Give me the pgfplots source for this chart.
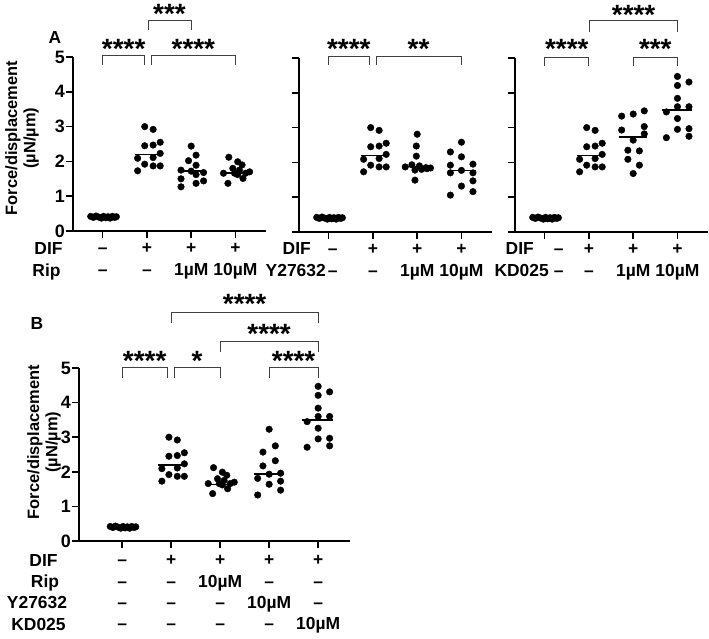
\documentclass[border=0pt]{standalone}
\usepackage{pgfplots}
\pgfplotsset{compat=1.18}
\usepackage{pgfplotstable}
\usepackage{fontspec}
\setmainfont{Liberation Sans}
\newcommand{\fs}{\fontsize{16.5}{18.5}\selectfont\bfseries}
\newcommand{\ft}{\fontsize{17.5}{20}\selectfont\bfseries}

\pgfplotstableread{
o y
-0.27 0.42
-0.21 0.39
-0.15 0.43
-0.09 0.40
-0.03 0.37
0.02 0.42
0.07 0.38
0.12 0.41
0.17 0.37
0.22 0.42
0.27 0.39
0.31 0.41
}\ctrl
\pgfplotstableread{
o y
-0.05 3.00
0.14 2.92
-0.05 2.45
0.14 2.47
0.30 2.55
-0.21 2.09
0.14 2.11
0.30 2.23
-0.05 1.92
0.14 1.87
0.30 1.87
-0.21 1.73
}\dif
\pgfplotstableread{
o y
0.00 2.44
0.11 2.18
-0.06 2.02
0.11 1.89
-0.23 1.75
0.00 1.72
0.11 1.62
0.28 1.68
-0.23 1.50
0.28 1.44
0.11 1.37
-0.23 1.27
}\ripone
\pgfplotstableread{
o y
-0.15 2.12
0.05 1.99
0.15 1.90
-0.06 1.80
0.09 1.75
-0.27 1.66
-0.02 1.66
0.23 1.66
0.05 1.62
0.17 1.51
-0.17 1.37
0.32 1.70
}\ripten
\pgfplotstableread{
o y
0.00 2.81
-0.02 2.47
-0.02 2.18
-0.27 1.87
-0.12 1.93
0.05 1.90
0.20 1.85
0.30 1.84
0.10 1.80
-0.05 1.78
0.22 1.82
-0.05 1.49
}\yone
\pgfplotstableread{
o y
0.00 2.58
-0.25 2.30
0.00 2.16
-0.25 1.92
0.26 1.95
0.00 1.77
-0.25 1.70
0.26 1.70
0.26 1.47
0.00 1.32
-0.25 1.06
0.26 1.16
}\yten
\pgfplotstableread{
o y
-0.26 3.33
0.00 3.39
0.25 3.48
-0.26 2.93
0.25 3.03
0.25 2.82
0.00 2.64
-0.12 2.35
0.14 2.33
-0.12 2.09
0.14 1.92
0.00 1.68
}\kdone
\pgfplotstableread{
o y
0.00 4.47
0.26 4.31
0.00 4.21
0.00 3.84
0.00 3.60
0.26 3.60
-0.25 3.45
0.00 3.26
0.26 2.97
0.00 2.95
0.26 2.75
-0.25 2.71
}\kdten
\pgfplotstableread{
o y
0.00 3.23
0.14 2.75
-0.14 2.57
0.14 2.32
-0.14 2.17
0.26 1.96
0.00 1.93
-0.26 1.81
0.26 1.73
0.00 1.64
0.26 1.47
-0.26 1.33
}\yB

\pgfplotsset{
 panel/.style={
  scale only axis, height=174bp, width=193bp,
  xmin=-0.67, xmax=3.69, ymin=0, ymax=5,
  axis x line*=bottom, axis y line*=left,
  axis line style={line width=1.5bp},
  every tick/.style={black, line width=1.5bp},
  tick align=outside, major tick length=7bp,
  xtick={0,1,2,3}, ytick={0,1,2,3,4,5},
  tick label style={font=\fontsize{18}{20}\selectfont\bfseries},
  /pgf/number format/assume math mode=true,
  xticklabel style={align=center, inner sep=0pt, font=\fontsize{17.5}{22}\selectfont\bfseries},
  yticklabel style={inner sep=1bp},
  clip=false,
 },
 dot/.style={only marks, mark=*, mark size=3.3bp, black, mark options={fill=black}},
 med/.style={black, line width=1.5bp, no marks},
}
\tikzset{
 br/.style={draw=black!75, line width=0.8bp},
 star/.style={font=\fontsize{28}{28}\selectfont\bfseries, anchor=base, inner sep=0pt, yshift=-15.4bp},
 lab/.style={font=\ft, anchor=base, inner sep=0pt},
}

\begin{document}
\begin{tikzpicture}
\path[use as bounding box] (0,0) rectangle (709bp,-639bp);

% ---------- A1: Rip ----------
\begin{axis}[panel, at={(73bp,-231bp)}, anchor=south west,
  xticklabels={{\strut –\\\strut –},{\strut +\\\strut –},{\strut +\\\strut 1µM},{\strut +\\\strut 10µM}}]
\addplot[dot] table[x expr=\thisrow{o}+0, y=y] {\ctrl};
\addplot[dot] table[x expr=\thisrow{o}+1, y=y] {\dif};
\addplot[dot] table[x expr=\thisrow{o}+2, y=y] {\ripone};
\addplot[dot] table[x expr=\thisrow{o}+3, y=y] {\ripten};
\addplot[med] coordinates {(-0.3,0.40) (0.3,0.40)};
\addplot[med] coordinates {(0.72,2.2) (1.36,2.2)};
\addplot[med] coordinates {(1.7,1.72) (2.3,1.72)};
\addplot[med] coordinates {(2.75,1.66) (3.3,1.66)};
\draw[br] (0,4.77) |- (0.95,5.06) -- (0.95,4.77);
\draw[br] (1.1,4.77) |- (3,5.06) -- (3,4.77);
\draw[br] (1.03,5.78) |- (2,6.06) -- (2,5.78);
\node[star] at (0.475,5.41) {****};
\node[star] at (2.05,5.41) {****};
\node[star] at (1.51,6.4) {***};
\end{axis}

% ---------- A2: Y27632 ----------
\begin{axis}[panel, at={(299bp,-232bp)}, anchor=south west, yticklabels={},
  xticklabels={{\strut\hspace*{8bp}–\\\strut\hspace*{8bp}–},{\strut +\\\strut –},{\strut +\\\strut 1µM},{\strut +\\\strut 10µM}}]
\addplot[dot] table[x expr=\thisrow{o}+0, y=y] {\ctrl};
\addplot[dot] table[x expr=\thisrow{o}+1, y=y] {\dif};
\addplot[dot] table[x expr=\thisrow{o}+2, y=y] {\yone};
\addplot[dot] table[x expr=\thisrow{o}+3, y=y] {\yten};
\addplot[med] coordinates {(-0.3,0.40) (0.3,0.40)};
\addplot[med] coordinates {(0.72,2.2) (1.36,2.2)};
\addplot[med] coordinates {(1.7,1.88) (2.32,1.88)};
\addplot[med] coordinates {(2.7,1.77) (3.32,1.77)};
\draw[br] (0,4.8) |- (0.91,5.06) -- (0.91,4.8);
\draw[br] (1.07,4.8) |- (3,5.06) -- (3,4.8);
\node[star] at (0.455,5.42) {****};
\node[star] at (2.03,5.42) {**};
\end{axis}

% ---------- A3: KD025 ----------
\begin{axis}[panel, at={(515bp,-232bp)}, anchor=south west, yticklabels={},
  xticklabels={{\strut\hspace*{28bp}–\\\strut\hspace*{28bp}–},{\strut +\\\strut –},{\strut +\\\strut 1µM},{\strut +\\\strut 10µM}}]
\addplot[dot] table[x expr=\thisrow{o}+0, y=y] {\ctrl};
\addplot[dot] table[x expr=\thisrow{o}+1, y=y] {\dif};
\addplot[dot] table[x expr=\thisrow{o}+2, y=y] {\kdone};
\addplot[dot] table[x expr=\thisrow{o}+3, y=y] {\kdten};
\addplot[med] coordinates {(-0.3,0.40) (0.3,0.40)};
\addplot[med] coordinates {(0.72,2.2) (1.36,2.2)};
\addplot[med] coordinates {(1.67,2.73) (2.32,2.73)};
\addplot[med] coordinates {(2.65,3.5) (3.33,3.5)};
\draw[br] (0,4.77) |- (0.99,5.03) -- (0.99,4.77);
\draw[br] (2,4.77) |- (3,5.03) -- (3,4.77);
\draw[br] (1.02,5.75) |- (3,6.09) -- (3,5.75);
\node[star] at (0.5,5.43) {****};
\node[star] at (2.5,5.43) {***};
\node[star] at (2.01,6.41) {****};
\end{axis}

% ---------- B ----------
\begin{axis}[panel, at={(79bp,-541bp)}, anchor=south west,
  width=271bp, height=173bp, xmin=-0.88, xmax=4.65, xtick={0,1,2,3,4},
  xticklabel style={yshift=-2.5bp, font=\fontsize{17.5}{21.5}\selectfont\bfseries},
  xticklabels={{\strut –\\\strut –\\\strut –\\\strut –},
               {\strut +\\\strut –\\\strut –\\\strut –},
               {\strut +\\\strut 10µM\\\strut –\\\strut –},
               {\strut +\\\strut –\\\strut 10µM\\\strut –},
               {\strut +\\\strut –\\\strut –\\\strut 10µM}}]
\addplot[dot] table[x expr=0.9*\thisrow{o}+0, y=y] {\ctrl};
\addplot[dot] table[x expr=0.9*\thisrow{o}+1, y=y] {\dif};
\addplot[dot] table[x expr=0.9*\thisrow{o}+2, y=y] {\ripten};
\addplot[dot] table[x expr=0.9*\thisrow{o}+3, y=y] {\yB};
\addplot[dot] table[x expr=0.9*\thisrow{o}+4, y=y] {\kdten};
\addplot[med] coordinates {(-0.27,0.40) (0.27,0.40)};
\addplot[med] coordinates {(0.73,2.2) (1.32,2.2)};
\addplot[med] coordinates {(1.76,1.64) (2.28,1.64)};
\addplot[med] coordinates {(2.7,1.94) (3.3,1.94)};
\addplot[med] coordinates {(3.68,3.5) (4.3,3.5)};
\draw[br] (0,4.72) |- (0.92,5.01) -- (0.92,4.72);
\draw[br] (1.06,4.72) |- (2,5.01) -- (2,4.72);
\draw[br] (3,4.72) |- (4,5.01) -- (4,4.72);
\draw[br] (2,5.47) |- (4,5.76) -- (4,5.47);
\draw[br] (1,6.29) |- (4,6.61) -- (4,6.29);
\node[star] at (0.46,5.38) {****};
\node[star] at (1.53,5.38) {*};
\node[star] at (3.5,5.38) {****};
\node[star] at (3.0,6.16) {****};
\node[star] at (2.5,7.02) {****};
\end{axis}

% ---------- text labels ----------
\node[font=\fontsize{17.5}{17.5}\selectfont\bfseries] at (55bp,-38bp) {A};
\node[font=\fontsize{17.5}{17.5}\selectfont\bfseries] at (37bp,-323bp) {B};
\node[rotate=90, align=center, font=\fs] at (22bp,-138bp) {Force/displacement\\(µN/µm)};
\node[rotate=90, align=center, font=\fs] at (44bp,-442bp) {Force/displacement\\(µN/µm)};

\node[lab] at (48.5bp,-254bp) {DIF};
\node[lab] at (46.5bp,-276bp) {Rip};
\node[lab, anchor=base east] at (311bp,-254bp) {DIF};
\node[lab, anchor=base east] at (326bp,-276bp) {Y27632};
\node[lab, anchor=base east] at (534bp,-254bp) {DIF};
\node[lab, anchor=base east] at (549bp,-276bp) {KD025};

\node[lab] at (43.5bp,-566bp) {DIF};
\node[lab] at (45bp,-587bp) {Rip};
\node[lab] at (37bp,-608.5bp) {Y27632};
\node[lab] at (38.5bp,-630bp) {KD025};
\end{tikzpicture}
\end{document}
